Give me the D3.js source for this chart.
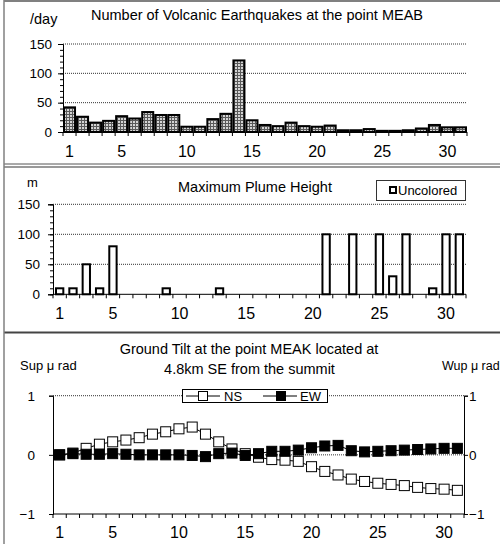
<html>
<head>
  <title>Volcano daily chart</title>
  <script src="https://d3js.org/d3.v7.min.js"></script>
  <style>
    body { margin: 0; background: #fff; }
    text { font-family: "Liberation Sans", Arial, sans-serif; fill: #000; }
  </style>
</head>
<body>
  <script>

	// categories and values
	var days = [1,2,3,4,5,6,7,8,9,10,11,12,13,14,15,16,17,18,19,20,21,22,23,24,25,26,27,28,29,30,31];
	var dayLabels = [1,5,10,15,20,25,30];
	var quakes = [42,26,16,19,27,23,34,29,29,9,9,22,31,122,20,12,10,16,10,9,11,3,3,5,2,2,3,6,12,8,8];
	var plume = [10,10,50,10,80,null,null,null,10,null,null,null,10,null,null,null,null,null,null,null,
	             100,null,100,null,100,30,100,null,10,100,100];
	var tiltNS = [0,0.03,0.11,0.18,0.22,0.25,0.29,0.35,0.39,0.44,0.47,0.35,0.22,0.1,0.02,-0.04,-0.08,-0.09,-0.11,-0.2,
	              -0.28,-0.34,-0.41,-0.45,-0.48,-0.5,-0.52,-0.55,-0.57,-0.58,-0.6];
	var tiltEW = [0,0.02,0.01,0.01,0.02,0.01,0,0,0,0,-0.01,-0.03,0.02,0.03,-0.01,0.02,0.06,0.06,0.08,0.12,
	              0.15,0.16,0.07,0.05,0.06,0.07,0.08,0.09,0.1,0.11,0.11];
	var barTicks = [0,50,100,150];
	var tiltTicks = [-1,0,1];

	var svg = d3.select('body')
	            .append('svg')
	              .attr('width', 501)
	              .attr('height', 544);

	// checkered fill for the earthquake bars
	var pat = svg.append('defs').append('pattern')
	    .attr('id', 'check')
	    .attr('patternUnits', 'userSpaceOnUse')
	    .attr('width', 3).attr('height', 3);
	pat.append('rect').attr('width', 3).attr('height', 3).attr('fill', '#5a5a5a');
	pat.append('rect').attr('x', 1).attr('y', 1).attr('width', 2).attr('height', 2).attr('fill', '#d4d4d4');

	// panel frames
	var frames = [[1, '#808080', 2], [164, '#555', 1], [167, '#999', 2], [332.5, '#444', 2]];
	frames.forEach(function(f){
	  svg.append('line').attr('x1', 4).attr('x2', 500).attr('y1', f[0]).attr('y2', f[0])
	     .attr('stroke', f[1]).attr('stroke-width', f[2]);
	});
	svg.append('line').attr('x1', 4).attr('x2', 4).attr('y1', 0).attr('y2', 544)
	   .attr('stroke', '#808080').attr('stroke-width', 1.5);

	function dotted(g, x0, x1, yy){
	  g.append('line').attr('x1', x0).attr('x2', x1).attr('y1', yy).attr('y2', yy)
	   .attr('stroke', '#333').attr('stroke-width', 1).attr('stroke-dasharray', '1,1');
	}

	function xAxis(x, yAxisPos, labelY){
	  var g = svg.append('g');
	  var r = x.range();
	  g.append('line').attr('x1', r[0]).attr('x2', r[1]).attr('y1', yAxisPos).attr('y2', yAxisPos)
	   .attr('stroke', '#000');
	  // ticks sit between the categories
	  var bounds = days.map(function(d){ return x(d); }).concat([r[1]]);
	  g.selectAll('.bt').data(bounds).enter().append('line')
	   .attr('x1', function(d){ return d; }).attr('x2', function(d){ return d; })
	   .attr('y1', yAxisPos).attr('y2', yAxisPos + 4).attr('stroke', '#000');
	  g.selectAll('.lb').data(dayLabels).enter().append('text')
	   .attr('x', function(d){ return x(d) + x.step() / 2; })
	   .attr('y', labelY)
	   .attr('text-anchor', 'middle')
	   .style('font-size', '16px')
	   .text(function(d){ return d; });
	}

	function barPanel(o){
	  var x = d3.scaleBand().domain(days).range([o.x0, o.x1]).paddingInner(o.pad).paddingOuter(o.pad / 2);
	  var y = d3.scaleLinear().domain([0, 150]).range([o.yb, o.yt]);
	  var g = svg.append('g');
	  [50, 100, 150].forEach(function(v){ dotted(g, o.x0, o.x1, y(v)); });

	  g.append('g').attr('transform', 'translate(' + o.x0 + ',0)')
	   .call(d3.axisLeft(y).tickValues(d3.range(0, 151, 10)).tickSize(3).tickFormat(''))
	   .call(function(a){ a.select('.domain').remove(); });
	  g.append('g').attr('transform', 'translate(' + o.x0 + ',0)')
	   .call(d3.axisLeft(y).tickValues(barTicks).tickSize(5).tickPadding(o.tickPad))
	   .call(function(a){ a.selectAll('text').style('font-size', '13.5px').attr('font-family', null); });

	  g.selectAll('rect.bar')
	    .data(days.filter(function(d, i){ return o.values[i] != null; }))
	    .enter().append('rect')
	    .attr('class', 'bar')
	    .attr('x', function(d){ return x(d) + 1; })
	    .attr('width', x.bandwidth() - 2)
	    .attr('y', function(d){ return y(o.values[d - 1]); })
	    .attr('height', function(d){ return o.yb - y(o.values[d - 1]); })
	    .attr('fill', o.fill)
	    .attr('stroke', '#000')
	    .attr('stroke-width', 2);

	  var xs = d3.scaleBand().domain(days).range([o.x0, o.x1]);
	  xAxis(xs, o.yb, o.labelY);
	  return g;
	}

	// panel 1: earthquakes
	barPanel({ x0: 63, x1: 467, yt: 44, yb: 132, pad: 0, tickPad: 6,
	           values: quakes, fill: 'url(#check)', labelY: 157 });
	svg.append('text').attr('x', 257).attr('y', 20).attr('text-anchor', 'middle')
	   .style('font-size', '14.5px').text('Number of Volcanic Earthquakes at the point MEAB');
	svg.append('text').attr('x', 30).attr('y', 24).style('font-size', '14.5px').text('/day');

	// panel 2: plume height
	barPanel({ x0: 53, x1: 466, yt: 204.3, yb: 294.3, pad: 0.3, tickPad: 8,
	           values: plume, fill: '#fff', labelY: 319 });
	svg.append('text').attr('x', 255).attr('y', 192).attr('text-anchor', 'middle')
	   .style('font-size', '14.5px').text('Maximum Plume Height');
	svg.append('text').attr('x', 27).attr('y', 187).style('font-size', '13px').text('m');
	var lg2 = svg.append('g');
	lg2.append('rect').attr('x', 376.5).attr('y', 180.5).attr('width', 89).attr('height', 20)
	   .attr('fill', '#fff').attr('stroke', '#333');
	lg2.append('rect').attr('x', 390).attr('y', 187).attr('width', 6).attr('height', 6)
	   .attr('fill', '#fff').attr('stroke', '#000').attr('stroke-width', 2);
	lg2.append('text').attr('x', 398).attr('y', 195).style('font-size', '13px').text('Uncolored');

	// panel 3: ground tilt
	var x3 = d3.scaleBand().domain(days).range([53, 464]);
	var y3 = d3.scaleLinear().domain([-1, 1]).range([514, 395.7]);
	var g3 = svg.append('g');
	dotted(g3, 53, 464, y3(1));
	dotted(g3, 53, 464, y3(0));
	g3.append('g').attr('transform', 'translate(53,0)')
	  .call(d3.axisLeft(y3).tickValues(tiltTicks).tickSize(4).tickPadding(14)
	         .tickFormat(function(d){ return d < 0 ? '\u22121' : d; }))
	  .call(function(a){ a.selectAll('text').style('font-size', '13.5px').attr('font-family', null); });
	g3.append('g').attr('transform', 'translate(464,0)')
	  .call(d3.axisRight(y3).tickValues(tiltTicks).tickSize(4).tickPadding(1)
	         .tickFormat(function(d){ return d < 0 ? '\u22121' : d; }))
	  .call(function(a){ a.selectAll('text').style('font-size', '13.5px').attr('font-family', null); });
	xAxis(x3, 514, 538);

	var cx = function(d){ return x3(d) + x3.step() / 2; };
	var line3 = function(vals){
	  return d3.line().x(function(d){ return cx(d); }).y(function(d){ return y3(vals[d - 1]); })(days);
	};
	[[tiltNS, '#fff'], [tiltEW, '#000']].forEach(function(s){
	  g3.append('path').attr('d', line3(s[0])).attr('fill', 'none').attr('stroke', '#000');
	  g3.selectAll(null).data(days).enter().append('rect')
	    .attr('x', function(d){ return cx(d) - 5; })
	    .attr('y', function(d){ return y3(s[0][d - 1]) - 5; })
	    .attr('width', 10).attr('height', 10)
	    .attr('fill', s[1]).attr('stroke', '#000');
	});

	svg.append('text').attr('x', 249).attr('y', 354).attr('text-anchor', 'middle')
	   .style('font-size', '14.5px').text('Ground Tilt at the point MEAK located at');
	svg.append('text').attr('x', 249.5).attr('y', 374).attr('text-anchor', 'middle')
	   .style('font-size', '14.5px').text('4.8km SE from the summit');
	svg.append('text').attr('x', 20).attr('y', 370).style('font-size', '13px').text('Sup \u03bc rad');
	svg.append('text').attr('x', 442).attr('y', 370).style('font-size', '12.5px').text('Wup \u03bc rad');

	var lg3 = svg.append('g');
	lg3.append('rect').attr('x', 182.5).attr('y', 389.5).attr('width', 145).attr('height', 13)
	   .attr('fill', '#fff').attr('stroke', '#000');
	[[186, 220, 203, '#fff', 'NS', 224], [263, 297, 281, '#000', 'EW', 300]].forEach(function(l){
	  lg3.append('line').attr('x1', l[0]).attr('x2', l[1]).attr('y1', 396).attr('y2', 396).attr('stroke', '#000');
	  lg3.append('rect').attr('x', l[2] - 4.5).attr('y', 391.5).attr('width', 9).attr('height', 9)
	     .attr('fill', l[3]).attr('stroke', '#000');
	  lg3.append('text').attr('x', l[5]).attr('y', 401).style('font-size', '13px').text(l[4]);
	});

  </script>
</body>
</html>
